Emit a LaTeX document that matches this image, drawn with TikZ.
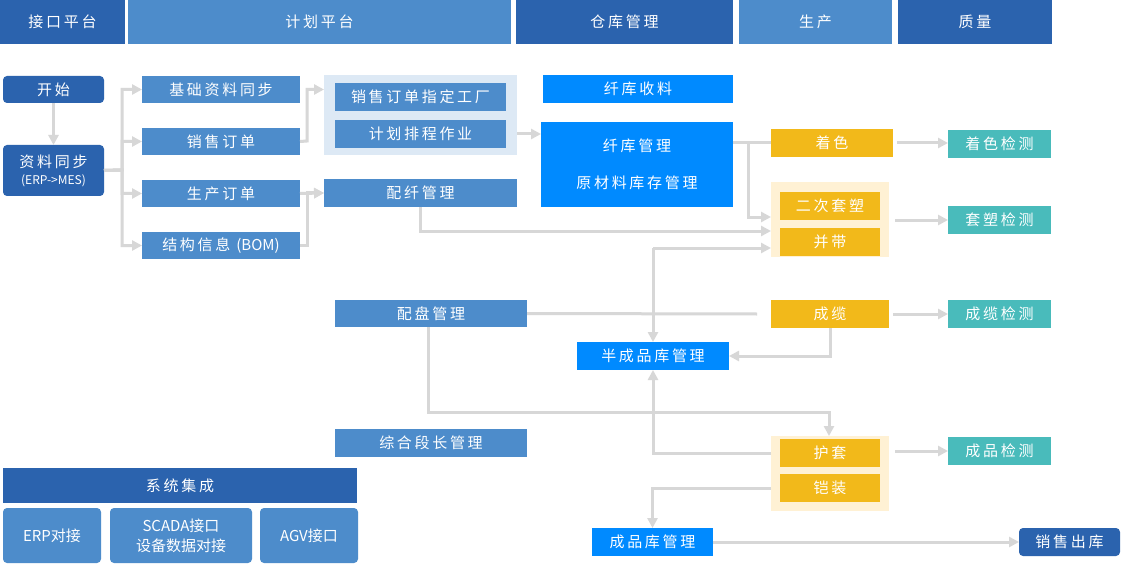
\documentclass[tikz,border=0pt]{standalone}
\usepackage{fontspec}
\setmainfont{Noto Sans CJK SC}
\newfontfamily\spf[LetterSpace=18]{Noto Sans CJK SC}
\newfontfamily\plf{Noto Sans CJK SC}
\usetikzlibrary{arrows.meta}
\definecolor{dkb}{RGB}{43,99,174}
\definecolor{lb}{RGB}{77,140,203}
\definecolor{brb}{RGB}{0,138,255}
\definecolor{yel}{RGB}{242,185,26}
\definecolor{lyel}{RGB}{255,241,212}
\definecolor{tealc}{RGB}{73,187,187}
\definecolor{lgrp}{RGB}{221,233,245}
\definecolor{gry}{RGB}{215,215,215}
\newcommand\bx[7]{\node[#2, minimum width={#5-#3}, minimum height={#6-#4}] (#1) at ({(#3+#5)/2},{(#4+#6)/2}) {#7};}
\tikzset{
 bxbase/.style={inner sep=0pt, outer sep=0pt, text=white, align=center, font=\spf\fontsize{15}{18}\selectfont},
 dk/.style={bxbase, fill=dkb},
 lt/.style={bxbase, fill=lb},
 brt/.style={bxbase, fill=brb},
 ye/.style={bxbase, fill=yel},
 te/.style={bxbase, fill=tealc},
 gb/.style={inner sep=0pt, outer sep=0pt, fill=lgrp},
 yb/.style={inner sep=0pt, outer sep=0pt, fill=lyel},
 hd/.style={font=\spf\fontsize{15}{18}\selectfont},
 rnd/.style={rounded corners=4pt},
 pl/.style={font=\plf\fontsize{15}{20}\selectfont},
 arr/.style={draw=gry, line width=3pt, -{Triangle[length=10pt,width=10pt]}},
 ln/.style={draw=gry, line width=3pt},
}
\begin{document}
\begin{tikzpicture}[x=1pt,y=-1pt]
\useasboundingbox (0,0) rectangle (1121,564);
\fill[white] (0,0) rectangle (1121,564);
% headers
\bx{h1}{dk,hd}{0}{0}{125}{44}{接口平台}
\bx{h2}{lt,hd}{128}{0}{511}{44}{计划平台}
\bx{h3}{dk,hd}{516}{0}{733}{44}{仓库管理}
\bx{h4}{lt,hd}{739}{0}{892}{44}{生产}
\bx{h5}{dk,hd}{898}{0}{1052}{44}{质量}
% left
\bx{start}{dk,rnd}{3}{76}{104}{103}{开始}
\bx{sync}{dk,rnd}{3}{145}{104}{196}{资料同步\\[-1pt]{\plf\fontsize{12}{14}\selectfont (ERP->MES)}}
\bx{jc}{lt}{142}{76}{300}{103}{基础资料同步}
\bx{xs}{lt}{142}{128}{300}{155}{销售订单}
\bx{sc}{lt}{142}{180}{300}{207}{生产订单}
\bx{bom}{lt}{142}{232}{300}{259}{结构信息 {\plf (BOM)}}
\bx{grp}{gb}{324}{75}{517}{155}{}
\bx{zd}{lt}{335}{83}{506}{111}{销售订单指定工厂}
\bx{jh}{lt}{335}{120}{506}{148}{计划排程作业}
\bx{pq}{lt}{324}{179}{517}{207}{配纤管理}
\bx{ksl}{brt}{543}{75}{733}{103}{纤库收料}
\bx{kg}{brt}{541}{122}{733}{207}{纤库管理\\[19pt]原材料库存管理}
\bx{zs}{ye}{771}{129}{893}{157}{着色}
\bx{tgrp}{yb}{771}{182}{889}{257}{}
\bx{ec}{ye}{780}{192}{880}{220}{二次套塑}
\bx{bd}{ye}{780}{228}{880}{256}{并带}
\bx{zsjc}{te}{948}{130}{1051}{158}{着色检测}
\bx{tsjc}{te}{948}{206}{1051}{234}{套塑检测}
\bx{pp}{lt}{335}{300}{527}{327}{配盘管理}
\bx{cl}{ye}{771}{300}{889}{328}{成缆}
\bx{cljc}{te}{948}{300}{1051}{328}{成缆检测}
\bx{bcp}{brt}{577}{342}{729}{370}{半成品库管理}
\bx{zh}{lt}{335}{429}{527}{457}{综合段长管理}
\bx{hgrp}{yb}{771}{436}{889}{511}{}
\bx{ht}{ye}{780}{439}{880}{467}{护套}
\bx{kz}{ye}{780}{474}{880}{502}{铠装}
\bx{cpjc}{te}{948}{437}{1051}{465}{成品检测}
\bx{cpk}{brt}{592}{528}{713}{556}{成品库管理}
\bx{xsck}{dk,rnd}{1019}{528}{1120}{556}{销售出库}
\bx{xtjc}{dk}{3}{468}{357}{503}{系统集成}
\bx{erp}{lt,rnd,pl}{3}{508}{101}{563}{ERP对接}
\bx{scada}{lt,rnd,pl}{110}{508}{252}{563}{SCADA接口\\设备数据对接}
\bx{agv}{lt,rnd,pl}{260}{508}{358}{563}{AGV接口}
% bend coordinates
\coordinate (ba) at (122,170);
\coordinate (bb) at (307,141);
\coordinate (bc) at (748,143);
\coordinate (t1) at (748,217);
\coordinate (t2) at (420,231);
\coordinate (v1) at (653,248);
\coordinate (pe) at (757,314);
\coordinate (hb) at (829,412);
% connectors
\draw[arr] (start) -- (sync);
\draw[arr] (sync.east) -- (ba) |- (jc.west);
\draw[arr] (sync.east) -- (ba) |- (xs.west);
\draw[arr] (sync.east) -- (ba) |- (sc.west);
\draw[arr] (sync.east) -- (ba) |- (bom.west);
\draw[arr] (xs.east) -- (bb) |- (grp.west|-jc.east);
\draw[arr] (sc.east) -- (pq.west);
\draw[arr] (bom.east) -| (bb|-bom.east) |- (pq.west);
\draw[arr] (grp.east|-jh.east) -- (kg.west|-jh.east);
\draw[ln] (kg.east|-zs.west) -- (zs.west);
\draw[arr] (bc) -- (t1) -- (tgrp.west|-t1);
\draw[arr] (pq.south-|t2) -- (t2) -- (tgrp.west|-t2);
\draw[arr] (v1) -- (tgrp.west|-v1);
\draw[arr] (v1) -- (bcp.north);
\draw[ln] (pp.east) -- (pe);
\draw[arr] (cl.south) |- (bcp.east);
\draw[arr] (pp.south-|428,0) -- (428,412) -- (hb) -- (hgrp.north-|hb);
\draw[arr] (hgrp.west|-ht.west) -| (bcp.south);
\draw[arr] (hgrp.west|-kz.west) -| (cpk.north);
\draw[arr] (cpk) -- (xsck);
\draw[arr, shorten <=4pt] (zs.east) -- (zsjc.west|-zs.east);
\draw[arr, shorten <=6pt] (tgrp.east|-tsjc.west) -- (tsjc.west);
\draw[arr, shorten <=4pt] (cl.east) -- (cljc.west);
\draw[arr, shorten <=6pt] (hgrp.east|-cpjc.west) -- (cpjc.west);
\end{tikzpicture}
\end{document}
